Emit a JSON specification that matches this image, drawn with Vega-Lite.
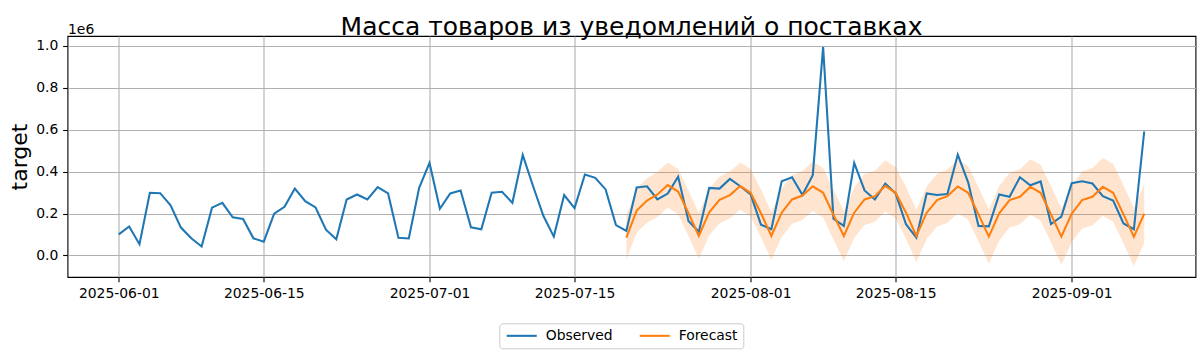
{
  "$schema": "https://vega.github.io/schema/vega-lite/v6.json",
  "width": 1128,
  "height": 241,
  "autosize": {"type": "none"},
  "padding": {"left": 67.5, "top": 36, "right": 8.5, "bottom": 81},
  "background": "white",
  "config": {
    "font": "DejaVu Sans",
    "view": {"stroke": "black", "strokeWidth": 1.1},
    "legend": {
      "strokeColor": "#cccccc",
      "fillColor": "rgba(255,255,255,0.8)",
      "cornerRadius": 3,
      "padding": 5.5,
      "symbolType": "M-1,0H5",
      "symbolSize": 100,
      "symbolStrokeWidth": 2.08,
      "labelFontSize": 13.9,
      "labelColor": "black",
      "labelOffset": 27,
      "columnPadding": 22
    }
  },
  "title": {
    "text": "Масса товаров из уведомлений о поставках",
    "fontSize": 25,
    "fontWeight": "normal",
    "font": "DejaVu Sans",
    "color": "black",
    "anchor": "middle",
    "frame": "group",
    "baseline": "alphabetic",
    "offset": -38
  },
  "datasets": {
    "obs": [
      {"date": "2025-06-01", "value": 101000}, {"date": "2025-06-02", "value": 138000}, {"date": "2025-06-03", "value": 54000},
      {"date": "2025-06-04", "value": 299000}, {"date": "2025-06-05", "value": 297000}, {"date": "2025-06-06", "value": 239000},
      {"date": "2025-06-07", "value": 133000}, {"date": "2025-06-08", "value": 82000}, {"date": "2025-06-09", "value": 43000},
      {"date": "2025-06-10", "value": 228000}, {"date": "2025-06-11", "value": 251000}, {"date": "2025-06-12", "value": 182000},
      {"date": "2025-06-13", "value": 174000}, {"date": "2025-06-14", "value": 82000}, {"date": "2025-06-15", "value": 66000},
      {"date": "2025-06-16", "value": 199000}, {"date": "2025-06-17", "value": 232000}, {"date": "2025-06-18", "value": 319000},
      {"date": "2025-06-19", "value": 259000}, {"date": "2025-06-20", "value": 229000}, {"date": "2025-06-21", "value": 123000},
      {"date": "2025-06-22", "value": 77000}, {"date": "2025-06-23", "value": 267000}, {"date": "2025-06-24", "value": 291000},
      {"date": "2025-06-25", "value": 267000}, {"date": "2025-06-26", "value": 326000}, {"date": "2025-06-27", "value": 296000},
      {"date": "2025-06-28", "value": 84000}, {"date": "2025-06-29", "value": 81000}, {"date": "2025-06-30", "value": 323000},
      {"date": "2025-07-01", "value": 441000}, {"date": "2025-07-02", "value": 223000}, {"date": "2025-07-03", "value": 296000},
      {"date": "2025-07-04", "value": 310000}, {"date": "2025-07-05", "value": 134000}, {"date": "2025-07-06", "value": 125000},
      {"date": "2025-07-07", "value": 299000}, {"date": "2025-07-08", "value": 304000}, {"date": "2025-07-09", "value": 251000},
      {"date": "2025-07-10", "value": 479000}, {"date": "2025-07-11", "value": 330000}, {"date": "2025-07-12", "value": 188000},
      {"date": "2025-07-13", "value": 90000}, {"date": "2025-07-14", "value": 288000}, {"date": "2025-07-15", "value": 226000},
      {"date": "2025-07-16", "value": 386000}, {"date": "2025-07-17", "value": 370000}, {"date": "2025-07-18", "value": 315000},
      {"date": "2025-07-19", "value": 145000}, {"date": "2025-07-20", "value": 117000}, {"date": "2025-07-21", "value": 324000},
      {"date": "2025-07-22", "value": 330000}, {"date": "2025-07-23", "value": 267000}, {"date": "2025-07-24", "value": 295000},
      {"date": "2025-07-25", "value": 376000}, {"date": "2025-07-26", "value": 164000}, {"date": "2025-07-27", "value": 113000},
      {"date": "2025-07-28", "value": 322000}, {"date": "2025-07-29", "value": 319000}, {"date": "2025-07-30", "value": 365000},
      {"date": "2025-07-31", "value": 330000}, {"date": "2025-08-01", "value": 291000}, {"date": "2025-08-02", "value": 147000},
      {"date": "2025-08-03", "value": 125000}, {"date": "2025-08-04", "value": 354000}, {"date": "2025-08-05", "value": 373000},
      {"date": "2025-08-06", "value": 289000}, {"date": "2025-08-07", "value": 383000}, {"date": "2025-08-08", "value": 994000},
      {"date": "2025-08-09", "value": 175000}, {"date": "2025-08-10", "value": 141000}, {"date": "2025-08-11", "value": 441000},
      {"date": "2025-08-12", "value": 310000}, {"date": "2025-08-13", "value": 267000}, {"date": "2025-08-14", "value": 343000},
      {"date": "2025-08-15", "value": 296000}, {"date": "2025-08-16", "value": 149000}, {"date": "2025-08-17", "value": 85000},
      {"date": "2025-08-18", "value": 296000}, {"date": "2025-08-19", "value": 288000}, {"date": "2025-08-20", "value": 293000},
      {"date": "2025-08-21", "value": 481000}, {"date": "2025-08-22", "value": 349000}, {"date": "2025-08-23", "value": 141000},
      {"date": "2025-08-24", "value": 139000}, {"date": "2025-08-25", "value": 291000}, {"date": "2025-08-26", "value": 280000},
      {"date": "2025-08-27", "value": 373000}, {"date": "2025-08-28", "value": 335000}, {"date": "2025-08-29", "value": 353000},
      {"date": "2025-08-30", "value": 150000}, {"date": "2025-08-31", "value": 185000}, {"date": "2025-09-01", "value": 345000},
      {"date": "2025-09-02", "value": 354000}, {"date": "2025-09-03", "value": 343000}, {"date": "2025-09-04", "value": 283000},
      {"date": "2025-09-05", "value": 262000}, {"date": "2025-09-06", "value": 153000}, {"date": "2025-09-07", "value": 125000},
      {"date": "2025-09-08", "value": 591000}
    ],
    "fc": [
      {"date": "2025-07-20", "value": 85000, "lo": -20000, "hi": 190000},
      {"date": "2025-07-21", "value": 214000, "lo": 108300, "hi": 319700},
      {"date": "2025-07-22", "value": 262000, "lo": 155600, "hi": 368400},
      {"date": "2025-07-23", "value": 291000, "lo": 183900, "hi": 398100},
      {"date": "2025-07-24", "value": 336000, "lo": 228200, "hi": 443800},
      {"date": "2025-07-25", "value": 305000, "lo": 196500, "hi": 413500},
      {"date": "2025-07-26", "value": 202000, "lo": 92800, "hi": 311200},
      {"date": "2025-07-27", "value": 93000, "lo": -16900, "hi": 202900},
      {"date": "2025-07-28", "value": 206000, "lo": 95400, "hi": 316600},
      {"date": "2025-07-29", "value": 265000, "lo": 153700, "hi": 376300},
      {"date": "2025-07-30", "value": 288000, "lo": 176000, "hi": 400000},
      {"date": "2025-07-31", "value": 331000, "lo": 218300, "hi": 443700},
      {"date": "2025-08-01", "value": 299000, "lo": 185600, "hi": 412400},
      {"date": "2025-08-02", "value": 201000, "lo": 86900, "hi": 315100},
      {"date": "2025-08-03", "value": 93000, "lo": -21800, "hi": 207800},
      {"date": "2025-08-04", "value": 204000, "lo": 88500, "hi": 319500},
      {"date": "2025-08-05", "value": 267000, "lo": 150800, "hi": 383200},
      {"date": "2025-08-06", "value": 286000, "lo": 169100, "hi": 402900},
      {"date": "2025-08-07", "value": 330000, "lo": 212400, "hi": 447600},
      {"date": "2025-08-08", "value": 299000, "lo": 180700, "hi": 417300},
      {"date": "2025-08-09", "value": 194000, "lo": 75000, "hi": 313000},
      {"date": "2025-08-10", "value": 93000, "lo": -26700, "hi": 212700},
      {"date": "2025-08-11", "value": 204000, "lo": 83600, "hi": 324400},
      {"date": "2025-08-12", "value": 267000, "lo": 145900, "hi": 388100},
      {"date": "2025-08-13", "value": 283000, "lo": 161200, "hi": 404800},
      {"date": "2025-08-14", "value": 332000, "lo": 209500, "hi": 454500},
      {"date": "2025-08-15", "value": 299000, "lo": 175800, "hi": 422200},
      {"date": "2025-08-16", "value": 204000, "lo": 80100, "hi": 327900},
      {"date": "2025-08-17", "value": 93000, "lo": -31600, "hi": 217600},
      {"date": "2025-08-18", "value": 204000, "lo": 78700, "hi": 329300},
      {"date": "2025-08-19", "value": 264000, "lo": 138000, "hi": 390000},
      {"date": "2025-08-20", "value": 283000, "lo": 156300, "hi": 409700},
      {"date": "2025-08-21", "value": 329000, "lo": 201600, "hi": 456400},
      {"date": "2025-08-22", "value": 299000, "lo": 170900, "hi": 427100},
      {"date": "2025-08-23", "value": 196000, "lo": 67200, "hi": 324800},
      {"date": "2025-08-24", "value": 90000, "lo": -39500, "hi": 219500},
      {"date": "2025-08-25", "value": 201000, "lo": 70800, "hi": 331200},
      {"date": "2025-08-26", "value": 264000, "lo": 133100, "hi": 394900},
      {"date": "2025-08-27", "value": 280000, "lo": 148400, "hi": 411600},
      {"date": "2025-08-28", "value": 327000, "lo": 194700, "hi": 459300},
      {"date": "2025-08-29", "value": 299000, "lo": 166000, "hi": 432000},
      {"date": "2025-08-30", "value": 196000, "lo": 62300, "hi": 329700},
      {"date": "2025-08-31", "value": 90000, "lo": -44400, "hi": 224400},
      {"date": "2025-09-01", "value": 199000, "lo": 63900, "hi": 334100},
      {"date": "2025-09-02", "value": 264000, "lo": 128200, "hi": 399800},
      {"date": "2025-09-03", "value": 280000, "lo": 143500, "hi": 416500},
      {"date": "2025-09-04", "value": 327000, "lo": 189800, "hi": 464200},
      {"date": "2025-09-05", "value": 299000, "lo": 161100, "hi": 436900},
      {"date": "2025-09-06", "value": 196000, "lo": 57400, "hi": 334600},
      {"date": "2025-09-07", "value": 89000, "lo": -50300, "hi": 228300},
      {"date": "2025-09-08", "value": 199000, "lo": 59000, "hi": 339000}
    ]
  },
  "layer": [
    {
      "data": {"name": "fc"},
      "mark": {"type": "area", "fill": "#ff7f0e", "fillOpacity": 0.2, "interpolate": "linear"},
      "encoding": {
        "x": {
          "field": "date", "type": "temporal",
          "scale": {"type": "utc", "domain": [{"year": 2025, "month": 5, "date": 27, "hours": 1, "minutes": 12, "utc": true}, {"year": 2025, "month": 9, "date": 12, "hours": 22, "minutes": 48, "utc": true}]},
          "axis": {"orient": "top", "labels": false, "ticks": false, "domain": false, "grid": false, "title": "1e6", "titleAnchor": "start", "titleAlign": "left", "titleAngle": 0, "titleBaseline": "alphabetic", "titleX": 0, "titleY": -3, "titleFontSize": 13.9, "titleFontWeight": "normal", "titleColor": "black", "titleFont": "DejaVu Sans"}
        },
        "y": {
          "field": "lo", "type": "quantitative",
          "scale": {"domain": [-102515, 1046215], "nice": false, "zero": false},
          "axis": {"values": [0, 200000, 400000, 600000, 800000, 1000000], "labelExpr": "format(datum.value/1000000, '.1f')", "title": "target", "titleFontSize": 22, "titleFontWeight": "normal", "titleColor": "black", "titleFont": "DejaVu Sans", "titleX": -41.5, "titleY": 120.5, "titleAlign": "center", "titleBaseline": "alphabetic", "titleAngle": 270, "grid": true, "gridColor": "#b0b0b0", "gridWidth": 1.1, "domain": false, "tickSize": 4.86, "tickColor": "black", "tickWidth": 1.1, "labelFontSize": 13.9, "labelColor": "black", "labelFont": "DejaVu Sans", "labelPadding": 4.86}
        },
        "y2": {"field": "hi"}
      }
    },
    {
      "data": {"name": "obs"},
      "mark": {"type": "line", "strokeWidth": 2.08},
      "encoding": {
        "x": {
          "field": "date", "type": "temporal",
          "scale": {"type": "utc", "domain": [{"year": 2025, "month": 5, "date": 27, "hours": 1, "minutes": 12, "utc": true}, {"year": 2025, "month": 9, "date": 12, "hours": 22, "minutes": 48, "utc": true}]},
          "axis": {"values": [{"year": 2025, "month": 6, "date": 1, "utc": true}, {"year": 2025, "month": 6, "date": 15, "utc": true}, {"year": 2025, "month": 7, "date": 1, "utc": true}, {"year": 2025, "month": 7, "date": 15, "utc": true}, {"year": 2025, "month": 8, "date": 1, "utc": true}, {"year": 2025, "month": 8, "date": 15, "utc": true}, {"year": 2025, "month": 9, "date": 1, "utc": true}], "labelExpr": "utcFormat(datum.value, '%Y-%m-%d')", "title": null, "grid": true, "gridColor": "#b0b0b0", "gridWidth": 1.1, "domain": false, "tickSize": 4.86, "tickColor": "black", "tickWidth": 1.1, "labelFontSize": 13.9, "labelColor": "black", "labelFont": "DejaVu Sans", "labelPadding": 4.86, "labelOverlap": false, "labelFlush": false}
        },
        "y": {
          "field": "value", "type": "quantitative",
          "scale": {"domain": [-102515, 1046215], "nice": false, "zero": false},
          "axis": {"values": [0, 200000, 400000, 600000, 800000, 1000000], "labelExpr": "format(datum.value/1000000, '.1f')", "title": "target", "titleFontSize": 22, "titleFontWeight": "normal", "titleColor": "black", "titleFont": "DejaVu Sans", "titleX": -41.5, "titleY": 120.5, "titleAlign": "center", "titleBaseline": "alphabetic", "titleAngle": 270, "grid": true, "gridColor": "#b0b0b0", "gridWidth": 1.1, "domain": false, "tickSize": 4.86, "tickColor": "black", "tickWidth": 1.1, "labelFontSize": 13.9, "labelColor": "black", "labelFont": "DejaVu Sans", "labelPadding": 4.86}
        },
        "color": {
          "datum": "Observed",
          "scale": {"domain": ["Observed", "Forecast"], "range": ["#1f77b4", "#ff7f0e"]},
          "legend": {"title": null, "orient": "none", "legendX": 431.8, "legendY": 287.3, "direction": "horizontal"}
        }
      }
    },
    {
      "data": {"name": "fc"},
      "mark": {"type": "line", "strokeWidth": 2.08},
      "encoding": {
        "x": {
          "field": "date", "type": "temporal",
          "scale": {"type": "utc", "domain": [{"year": 2025, "month": 5, "date": 27, "hours": 1, "minutes": 12, "utc": true}, {"year": 2025, "month": 9, "date": 12, "hours": 22, "minutes": 48, "utc": true}]},
          "axis": null
        },
        "y": {
          "field": "value", "type": "quantitative",
          "scale": {"domain": [-102515, 1046215], "nice": false, "zero": false},
          "axis": {"values": [0, 200000, 400000, 600000, 800000, 1000000], "labelExpr": "format(datum.value/1000000, '.1f')", "title": "target", "titleFontSize": 22, "titleFontWeight": "normal", "titleColor": "black", "titleFont": "DejaVu Sans", "titleX": -41.5, "titleY": 120.5, "titleAlign": "center", "titleBaseline": "alphabetic", "titleAngle": 270, "grid": true, "gridColor": "#b0b0b0", "gridWidth": 1.1, "domain": false, "tickSize": 4.86, "tickColor": "black", "tickWidth": 1.1, "labelFontSize": 13.9, "labelColor": "black", "labelFont": "DejaVu Sans", "labelPadding": 4.86}
        },
        "color": {
          "datum": "Forecast",
          "scale": {"domain": ["Observed", "Forecast"], "range": ["#1f77b4", "#ff7f0e"]},
          "legend": {"title": null, "orient": "none", "legendX": 431.8, "legendY": 287.3, "direction": "horizontal"}
        }
      }
    }
  ],
  "resolve": {"axis": {"x": "independent"}}
}
